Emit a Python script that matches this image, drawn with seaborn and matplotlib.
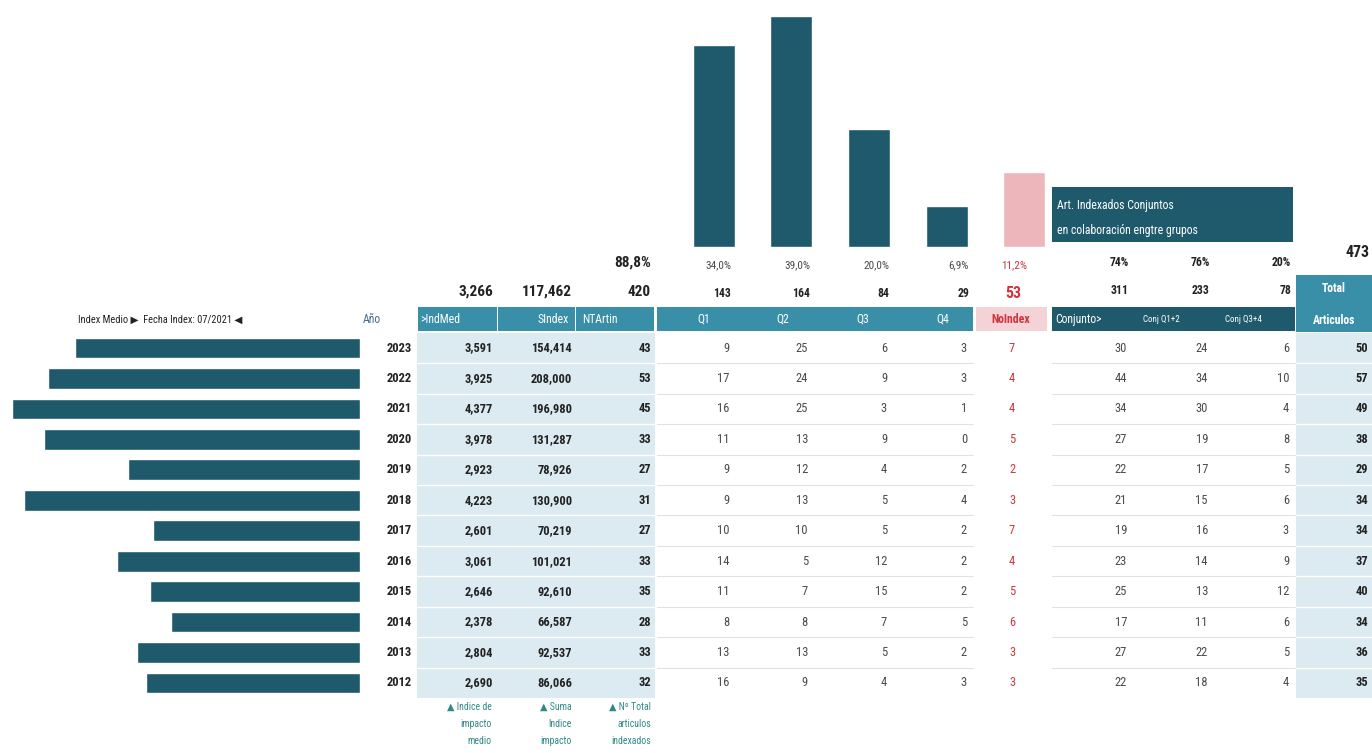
import matplotlib
matplotlib.use("Agg")
import matplotlib.pyplot as plt
from matplotlib.patches import Rectangle
from matplotlib import font_manager
import seaborn as sns

sns.set_theme(style="white")
names = {f.name for f in font_manager.fontManager.ttflist}
fam = None
for cand in ["Liberation Sans Narrow", "Roboto Condensed", "DejaVu Sans Condensed", "Open Sans Condensed", "Liberation Sans"]:
    if cand in names:
        fam = cand
        break
plt.rcParams["font.family"] = [fam or "DejaVu Sans", "DejaVu Sans"]

# ---------------- data ----------------
years = [2023, 2022, 2021, 2020, 2019, 2018, 2017, 2016, 2015, 2014, 2013, 2012]
indmed = [3.591, 3.925, 4.377, 3.978, 2.923, 4.223, 2.601, 3.061, 2.646, 2.378, 2.804, 2.690]
sindex = [154.414, 208.000, 196.980, 131.287, 78.926, 130.900, 70.219, 101.021, 92.610, 66.587, 92.537, 86.066]
ntartin = [43, 53, 45, 33, 27, 31, 27, 33, 35, 28, 33, 32]
q1 = [9, 17, 16, 11, 9, 9, 10, 14, 11, 8, 13, 16]
q2 = [25, 24, 25, 13, 12, 13, 10, 5, 7, 8, 13, 9]
q3 = [6, 9, 3, 9, 4, 5, 5, 12, 15, 7, 5, 4]
q4 = [3, 3, 1, 0, 2, 4, 2, 2, 2, 5, 2, 3]
noindex = [7, 4, 4, 5, 2, 3, 7, 4, 5, 6, 3, 3]
conj = [30, 44, 34, 27, 22, 21, 19, 23, 25, 17, 27, 22]
conj12 = [24, 34, 30, 19, 17, 15, 16, 14, 13, 11, 22, 18]
conj34 = [6, 10, 4, 8, 5, 6, 3, 9, 12, 6, 5, 4]
total = [50, 57, 49, 38, 29, 34, 34, 37, 40, 34, 36, 35]

cat_top = ["Q1", "Q2", "Q3", "Q4", "NoIndex"]
cat_top_tot = [143, 164, 84, 29, 53]
cat_top_pct = ["34,0%", "39,0%", "20,0%", "6,9%", "11,2%"]
conj_tot = [311, 233, 78]
conj_pct = ["74%", "76%", "20%"]
sum_indmed = "3,266"
sum_sindex = "117,462"
sum_nt = "420"
pct_nt = "88,8%"
grand_total = "473"

headers_left = [">IndMed", "SIndex", "NTArtin"]
headers_conj = ["Conjunto>", "Conj Q1+2", "Conj Q3+4"]
footnotes = [["\u25b2 Indice de", "impacto", "medio"],
             ["\u25b2 Suma", "Indice", "impacto"],
             ["\u25b2 N\u00ba Total", "articulos", "indexados"]]

# ---------------- style ----------------
W, H = 1372, 753
dark = "#1E5A6C"
teal = "#3A8FA8"
pink = "#EDB6BA"
pink_cell = "#F4D3D6"
lblue = "#DCEBF2"
red = "#D2343E"
gray = "#4A4A4A"
black = "#222222"
foot = "#2E8A86"

def fx(x):
    return x / W

def fy(y):
    return 1 - y / H

fig = plt.figure(figsize=(W / 100, H / 100), dpi=100)
bg = fig.add_axes([0, 0, 1, 1])
bg.set_xlim(0, W)
bg.set_ylim(H, 0)
bg.axis("off")

row0, rowh = 348, 30.45
tab_top = row0 - rowh / 2
tab_bot = row0 + rowh * (len(years) - 0.5)

def rect(x, y, w, h, c, z=1):
    bg.add_patch(Rectangle((x, y), w, h, color=c, lw=0, zorder=z))

# backgrounds
rect(417, tab_top, 238, tab_bot - tab_top, lblue)
rect(1296, tab_top, 76, tab_bot - tab_top, lblue)
rect(418, 307, 79, 24, teal)
rect(498, 307, 77, 24, teal)
rect(576, 307, 78, 24, teal)
rect(657, 307, 316, 24, teal)
rect(976, 307, 71, 24, pink_cell)
rect(1052, 307, 243, 24, dark)
rect(1296, 275, 76, 57, teal)
rect(1052, 187, 241, 55, dark)

# row separators
for i in range(1, len(years)):
    yb = tab_top + i * rowh
    bg.plot([417, 655], [yb, yb], color="white", lw=1.0, zorder=2)
    bg.plot([1296, 1372], [yb, yb], color="white", lw=1.0, zorder=2)
    bg.plot([657, 973], [yb, yb], color="#E2E2E2", lw=0.8, zorder=2)
    bg.plot([1052, 1295], [yb, yb], color="#E2E2E2", lw=0.8, zorder=2)

# ---------------- left bars (IndMed) ----------------
axL = fig.add_axes([0, fy(tab_bot), fx(360), (tab_bot - tab_top) / H])
axL.patch.set_alpha(0)
sns.barplot(x=indmed, y=[str(y) for y in years], orient="h", color=dark,
            width=0.68, saturation=1, ax=axL)
axL.set_xlim(360 / 79.5, 0)
axL.set_ylim(len(years) - 0.5, -0.5)
axL.axis("off")

# ---------------- top bars ----------------
axT = fig.add_axes([fx(675), fy(247), fx(1063 - 675), 247 / H])
axT.patch.set_alpha(0)
sns.barplot(x=cat_top, y=cat_top_tot, hue=cat_top, palette=[dark] * 4 + [pink],
            width=0.54, saturation=1, legend=False, ax=axT)
axT.set_xlim(-0.5, len(cat_top) - 0.5)
axT.set_ylim(0, 247 / 1.41)
axT.axis("off")

# ---------------- texts ----------------
def t(x, y, s, ha="right", size=9, color=black, weight="normal", **kw):
    bg.text(x, y, s, ha=ha, va="center", fontsize=size, color=color,
            fontweight=weight, zorder=5, **kw)

t(78, 320, "Index Medio \u25b6  Fecha Index: 07/2021 \u25c0", ha="left", size=7.5)
t(372, 319, "A\u00f1o", ha="center", size=8.5, color="#4A6B8C")

# header texts
t(420, 319, headers_left[0], ha="left", size=8.5, color="white")
t(569, 319, headers_left[1], ha="right", size=8.5, color="white")
t(582, 319, headers_left[2], ha="left", size=8.5, color="white")
for x, s in zip([697, 776, 856, 936], cat_top[:4]):
    t(x, 319, s, ha="left", size=8.5, color="white")
t(1011, 319, cat_top[4], ha="center", size=8.5, color=red, weight="bold")
t(1055, 319, headers_conj[0], ha="left", size=8.5, color="white")
t(1143, 319, headers_conj[1], ha="left", size=6.5, color="white")
t(1225, 319, headers_conj[2], ha="left", size=6.5, color="white")
t(1334, 288, "Total", ha="center", size=8.5, color="white", weight="bold")
t(1334, 320, "Articulos", ha="center", size=8.5, color="white", weight="bold")
t(1057, 205, "Art. Indexados Conjuntos", ha="left", size=8.5, color="white")
t(1057, 230, "en colaboraci\u00f3n engtre grupos", ha="left", size=8.5, color="white")

# summary rows
t(493, 292, sum_indmed, size=11, weight="bold")
t(572, 292, sum_sindex, size=11, weight="bold")
t(651, 292, sum_nt, size=11, weight="bold")
t(651, 263, pct_nt, size=11, weight="bold")
qright = [731, 810, 889, 969]
for i in range(4):
    t(qright[i], 265, cat_top_pct[i], size=8, color=gray)
    t(qright[i], 293, str(cat_top_tot[i]), size=8.5, weight="bold")
t(1014, 265, cat_top_pct[4], ha="center", size=8, color=red)
t(1013, 293, str(cat_top_tot[4]), ha="center", size=11.5, color=red, weight="bold")
cright = [1129, 1210, 1291]
for i in range(3):
    t(cright[i], 262, conj_pct[i], size=8.5, weight="bold")
    t(cright[i], 290, str(conj_tot[i]), size=8.5, weight="bold")
t(1370, 252, grand_total, size=11.5, weight="bold")

def dec3(v):
    return f"{v:.3f}".replace(".", ",")

for i, yr in enumerate(years):
    y = row0 + i * rowh
    t(412, y, str(yr), size=9, weight="bold")
    t(493, y, dec3(indmed[i]), size=9, weight="bold")
    t(572, y, dec3(sindex[i]), size=9, weight="bold")
    t(651, y, str(ntartin[i]), size=9, weight="bold")
    for xr, col in zip(qright, [q1, q2, q3, q4]):
        t(xr - 2, y, str(col[i]), size=9, color=gray)
    t(1012, y, str(noindex[i]), ha="center", size=9, color=red)
    for xr, col in zip(cright, [conj, conj12, conj34]):
        t(xr - 2, y, str(col[i]), size=9, color=gray)
    t(1368, y, str(total[i]), size=9, weight="bold")

for xr, lines in zip([492, 572, 651], footnotes):
    for j, s in enumerate(lines):
        t(xr, 707 + j * 17, s, size=7, color=foot)

fig.savefig("out.png", dpi=100)
